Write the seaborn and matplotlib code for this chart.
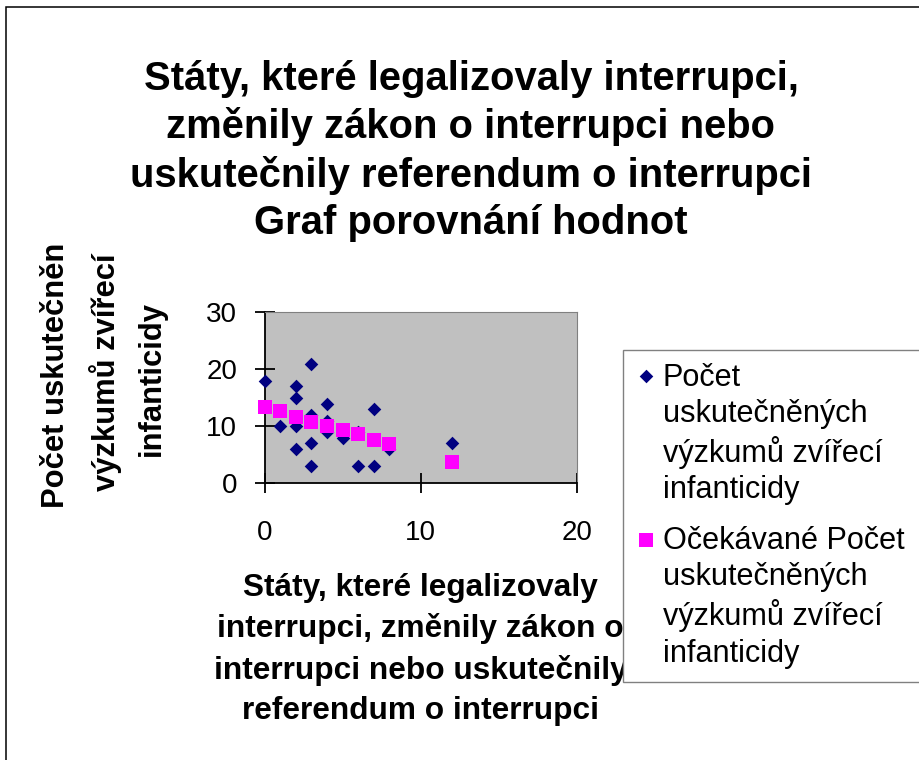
import matplotlib
matplotlib.use("Agg")
import numpy as np
import pandas as pd
import matplotlib.pyplot as plt
import seaborn as sns
from matplotlib.patches import Rectangle
from matplotlib.transforms import Bbox, TransformedBbox

# ---------------- data ----------------
states_x = [0, 3, 2, 2, 4, 7, 1, 2, 3, 4, 4, 5, 6, 8, 2, 3, 3, 6, 7, 12]
studies_y = [18, 21, 17, 15, 14, 13, 10, 10, 12, 11, 9, 8, 9, 6, 6, 7, 3, 3, 3, 7]
expected_x = [0, 1, 2, 3, 4, 5, 6, 7, 8, 12]
expected_y = [13.3, 12.6, 11.6, 10.8, 10.1, 9.4, 8.7, 7.6, 6.9, 3.7]
x_ticks = [0, 10, 20]
y_ticks = [0, 10, 20, 30]

title_text = ("Státy, které legalizovaly interrupci,\nzměnily zákon o interrupci nebo\n"
              "uskutečnily referendum o interrupci\nGraf porovnání hodnot")
xlabel_text = ("Státy, které legalizovaly\ninterrupci, změnily zákon o\n"
               "interrupci nebo uskutečnily\nreferendum o interrupci")
ylabel_lines = ["Počet uskutečněných", "výzkumů zvířecí", "infanticidy"]
legend_labels = ["Počet\nuskutečněných\nvýzkumů zvířecí\ninfanticidy",
                 "Očekávané Počet\nuskutečněných\nvýzkumů zvířecí\ninfanticidy"]

# ---------------- style ----------------
W, H = 920, 760
sns.set_theme(style="white")
plt.rcParams['font.family'] = ['Liberation Sans', 'DejaVu Sans']

fig = plt.figure(figsize=(9.2, 7.6), dpi=100)
fig.patch.set_facecolor('white')


def fx(px):
    return px / W


def fy(py):
    return 1 - py / H


ax_l, ax_r, ax_t, ax_b = 264.7, 576.7, 312.3, 483.3
ax = fig.add_axes([fx(ax_l), fy(ax_b), (ax_r - ax_l) / W, (ax_b - ax_t) / H])
ax.set_facecolor('#C0C0C0')

df1 = pd.DataFrame({'x': states_x, 'y': studies_y})
df2 = pd.DataFrame({'x': expected_x, 'y': expected_y})
sns.scatterplot(data=df1, x='x', y='y', marker='D', color='#000080', s=48,
                linewidth=0, ax=ax, label=legend_labels[0], zorder=3, clip_on=False)
sns.scatterplot(data=df2, x='x', y='y', marker='s', color='#FF00FF', s=88,
                linewidth=0, ax=ax, label=legend_labels[1], zorder=4, clip_on=False)

ax.set_xlim(0, 20)
ax.set_ylim(0, 30)
ax.set_xticks(x_ticks)
ax.set_yticks(y_ticks)
ax.grid(False)
for side in ['top', 'right']:
    ax.spines[side].set_color('#808080')
    ax.spines[side].set_linewidth(0.8)
for side in ['left', 'bottom']:
    ax.spines[side].set_color('black')
    ax.spines[side].set_linewidth(1.3)
ax.tick_params(direction='inout', length=14.4, width=1.3, color='black',
               labelsize=20, labelcolor='black')
ax.tick_params(axis='x', pad=19.2, bottom=True, top=False)
ax.tick_params(axis='y', pad=12.7, left=True, right=False)

LABEL_FS = 22.8
YLABEL_FS = 22.3
ax.set_ylabel('')
ax.set_xlabel(xlabel_text, fontsize=LABEL_FS, fontweight='bold', linespacing=1.437,
              color='black')
ax.xaxis.set_label_coords(0.5, -(573.0 - ax_b) / (ax_b - ax_t))

# title
fig.text(fx(471), fy(234), title_text, ha='center', va='baseline', fontsize=28.8,
         fontweight='bold', linespacing=1.308, multialignment='center', color='black')

# y label (three rotated lines, first one clipped like the original)
t1 = fig.text(fx(64.5), fy(508), ylabel_lines[0], rotation=90, rotation_mode='anchor',
              ha='left', va='baseline', fontsize=YLABEL_FS, fontweight='bold', color='black')
t1.set_clip_box(TransformedBbox(Bbox([[0, 0], [1, fy(245)]]), fig.transFigure))
t1.set_clip_on(True)
fig.text(fx(115), fy(372), ylabel_lines[1], rotation=90, rotation_mode='anchor',
         ha='center', va='baseline', fontsize=YLABEL_FS, fontweight='bold', color='black')
fig.text(fx(160), fy(378), ylabel_lines[2], rotation=90, rotation_mode='anchor',
         ha='center', va='baseline', fontsize=YLABEL_FS, fontweight='bold', color='black')

# legend
handles, labels = ax.get_legend_handles_labels()
leg = ax.legend(handles, labels, loc='upper left',
                bbox_to_anchor=(fx(623), fy(350), fx(1000) - fx(623), 0),
                bbox_transform=fig.transFigure, mode='expand', borderaxespad=0,
                fancybox=False, frameon=True, edgecolor='#808080', facecolor='white',
                framealpha=1, fontsize=22.1, handlelength=0.66, handletextpad=0.21,
                borderpad=0.42, labelspacing=0.68, handleheight=0.75, scatterpoints=1,
                markerscale=1)
leg.get_frame().set_linewidth(1.0)
for t in leg.get_texts():
    t.set_linespacing(1.27)
    t.set_color('black')
try:
    rows = leg._legend_handle_box.get_children()[0].get_children()
    for hp in rows:
        hp.align = 'top'
except Exception:
    pass

# outer chart border (only left and top edges are inside the picture)
fig.add_artist(Rectangle((fx(6.5), -0.5), 2, fy(7.5) + 0.5, transform=fig.transFigure,
                         fill=False, edgecolor='black', linewidth=1.1, clip_on=False))

fig.savefig('out.png', dpi=100)
